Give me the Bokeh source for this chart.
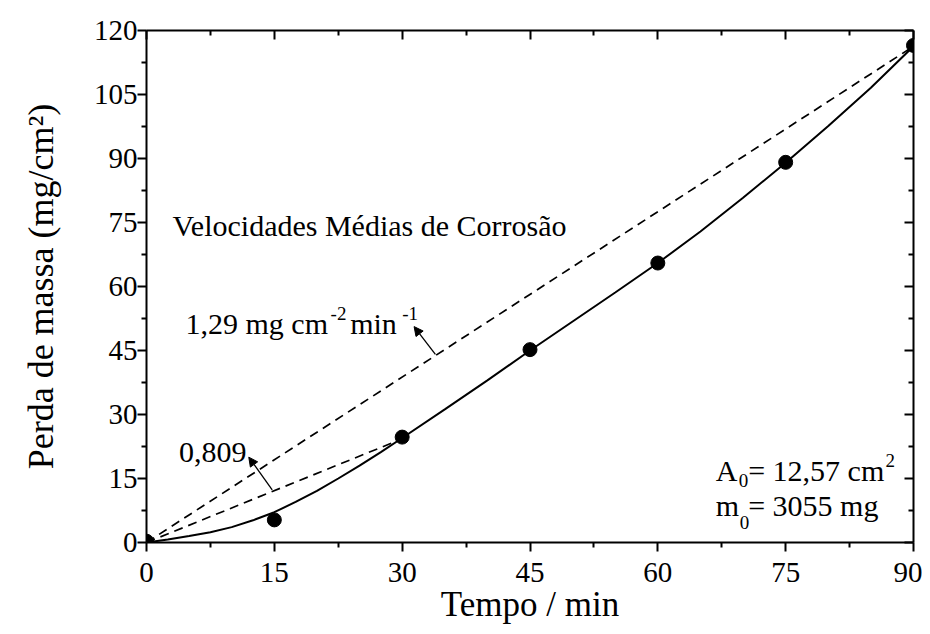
from bokeh.plotting import figure
from bokeh.models import (Range1d, FixedTicker, LinearAxis, Label, Arrow, NormalHead,
                          CustomJSTickFormatter)
from bokeh.embed import file_html
from bokeh.resources import INLINE

# ---- data ----
tempo = [0, 15, 30, 45, 60, 75, 90]
perda = [0.3, 5.3, 24.7, 45.2, 65.5, 89.1, 116.5]

fit_t = [0, 2.5, 5, 7.5, 10, 12.5, 15, 17.5, 20, 22.5, 25, 27.5, 30, 35, 40, 45, 50,
         55, 60, 65, 70, 75, 80, 85, 90]
fit_y = [0, 0.7, 1.5, 2.4, 3.6, 5.2, 7.1, 9.5, 12.1, 15.0, 18.0, 21.2, 24.5, 31.2,
         38.0, 45.0, 51.8, 58.6, 65.5, 72.9, 80.8, 89.0, 97.6, 106.6, 116.3]

rate_total_t = [0, 90]
rate_total_y = [0, 116.3]
rate_first_t = [0, 30]
rate_first_y = [0, 24.3]

x_ticks = [0, 15, 30, 45, 60, 75, 90]
x_minor = [7.5, 22.5, 37.5, 52.5, 67.5, 82.5]
y_ticks = [0, 15, 30, 45, 60, 75, 90, 105, 120]
y_minor = [7.5, 22.5, 37.5, 52.5, 67.5, 82.5, 97.5, 112.5]

FONT = "Liberation Serif"

p = figure(width=922, height=626, output_backend="svg", toolbar_location=None,
           x_range=Range1d(0, 90), y_range=Range1d(0, 120),
           min_border_left=146, min_border_right=9, min_border_top=30, min_border_bottom=84)
p.outline_line_color = None
p.xgrid.visible = False
p.ygrid.visible = False
p.background_fill_color = "white"
p.border_fill_color = "white"

def style_axis(ax, inward):
    ax.axis_line_width = 2
    ax.axis_line_color = "black"
    ax.major_tick_line_width = 2
    ax.minor_tick_line_width = 2
    ax.major_tick_line_color = "black"
    ax.minor_tick_line_color = "black"
    if inward:
        ax.major_tick_in = 9
        ax.major_tick_out = 0
        ax.minor_tick_in = 5
        ax.minor_tick_out = 0
    else:
        ax.major_tick_in = 0
        ax.major_tick_out = 9
        ax.minor_tick_in = 0
        ax.minor_tick_out = 5
    ax.major_label_text_font = FONT
    ax.major_label_text_font_size = "29px"
    ax.major_label_text_color = "black"
    ax.axis_label_text_font = FONT
    ax.axis_label_text_font_style = "normal"
    ax.axis_label_text_color = "black"

xa = p.xaxis[0]
xa.ticker = FixedTicker(ticks=x_ticks, minor_ticks=x_minor)
style_axis(xa, False)
xa.major_label_standoff = 11
xa.axis_label = "Tempo / min"
xa.axis_label_text_font_size = "35px"
xa.axis_label_standoff = 0

ya = p.yaxis[0]
ya.ticker = FixedTicker(ticks=y_ticks, minor_ticks=y_minor)
style_axis(ya, False)
ya.major_label_standoff = 0
ya.axis_label = "Perda de massa (mg/cm²)"
ya.axis_label_text_font_size = "36px"
ya.axis_label_standoff = 30

empty = CustomJSTickFormatter(code="return ''")
top = LinearAxis(ticker=FixedTicker(ticks=x_ticks, minor_ticks=x_minor), formatter=empty)
style_axis(top, True)
top.major_label_standoff = 0
top.major_label_text_font_size = "1px"
p.add_layout(top, "above")

right = LinearAxis(ticker=FixedTicker(ticks=y_ticks, minor_ticks=y_minor), formatter=empty)
style_axis(right, True)
right.major_label_standoff = 0
right.major_label_text_font_size = "1px"
p.add_layout(right, "right")

# dashed average-rate lines
p.line(rate_total_t, rate_total_y, line_color="black", line_width=1.7, line_dash="9 6")
p.line(rate_first_t, rate_first_y, line_color="black", line_width=1.7, line_dash="9 6")
# fitted curve
p.line(fit_t, fit_y, line_color="black", line_width=2)
# points
p.scatter(tempo, perda, size=14, marker="circle", fill_color="black", line_color="black")

def lab(x, y, text, size, align="left"):
    p.add_layout(Label(x=x, y=y, text=text, text_font=FONT, text_font_size=size,
                       text_color="black", text_baseline="alphabetic", text_align=align))

BIG = "30px"
SMALL = "19px"
lab(3.05, 74.3, "Velocidades Médias de Corrosão", BIG)
lab(4.58, 51.3, "1,29 mg cm", BIG)
lab(21.6, 53.7, "-2", SMALL)
lab(23.9, 51.3, "min", BIG)
lab(30.0, 53.7, "-1", SMALL)
lab(3.8, 21.1, "0,809", BIG)

lab(66.8, 16.9, "A", BIG)
lab(69.5, 14.5, "0", SMALL)
lab(70.6, 16.9, "= 12,57 cm", BIG)
lab(86.7, 19.2, "2", SMALL)
lab(66.8, 8.7, "m", BIG)
lab(69.6, 4.7, "0", SMALL)
lab(70.6, 8.7, "= 3055 mg", BIG)

for (x0, y0, x1, y1) in [(33.9, 44.1, 31.4, 50.6), (14.75, 12.35, 12.0, 20.0)]:
    p.add_layout(Arrow(x_start=x0, y_start=y0, x_end=x1, y_end=y1,
                       line_color="black", line_width=1.3,
                       end=NormalHead(size=9, fill_color="black", line_color="black",
                                      line_width=1)))

open("out.html", "w").write(file_html(p, INLINE))
